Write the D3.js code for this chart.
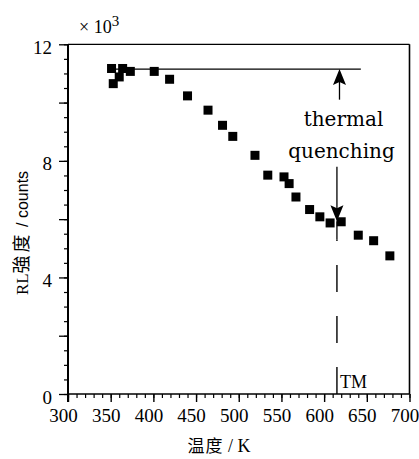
<!DOCTYPE html>
<html>
<head>
<meta charset="utf-8">
<script src="https://cdn.jsdelivr.net/npm/d3@7/dist/d3.min.js"></script>
<style>
  html, body { margin: 0; padding: 0; background: #fff; }
  svg { display: block; }
</style>
</head>
<body>
<svg id="chart" width="419" height="459"></svg>
<script>
// Radioluminescence intensity versus temperature
const temperatureK = [351, 353, 360, 364, 373, 401, 419, 440, 464, 481, 493, 519, 534, 553, 559, 567, 583, 595, 607, 620, 640, 658, 677];
const intensityK = [11.17, 10.65, 10.88, 11.17, 11.07, 11.07, 10.80, 10.23, 9.74, 9.22, 8.84, 8.19, 7.51, 7.45, 7.22, 6.76, 6.33, 6.08, 5.87, 5.91, 5.45, 5.26, 4.74];

const xTickValues = [300, 350, 400, 450, 500, 550, 600, 650, 700];
const yTickLabels = [0, 4, 8, 12];

// Plateau reference and quenching annotation (data units)
const plateauLevel = 11.15;
const plateauRange = [350, 643];
const quenchArrowT = 618;
const upArrowTail = 10.1;
const downArrowTail = 7.8;
const downArrowTip = 5.93;
const tmTemperature = 615;
const tmLineTop = 5.3;

const svg = d3.select("#chart");
const serif = "'Liberation Serif', 'Times New Roman', serif";
const cjk = "'Noto Sans CJK SC', 'Noto Sans CJK JP', sans-serif";

const x = d3.scaleLinear().domain([300, 700]).range([68, 409.5]);
const y = d3.scaleLinear().domain([0, 12]).range([394, 44.3]);

// Frame: top and right borders
svg.append("line").attr("x1", x(300)).attr("x2", x(700)).attr("y1", y(12)).attr("y2", y(12))
  .attr("stroke", "#000").attr("stroke-width", 1.3);
svg.append("line").attr("x1", x(700)).attr("x2", x(700)).attr("y1", y(12)).attr("y2", y(0))
  .attr("stroke", "#000").attr("stroke-width", 1.6);

// Bottom axis: minor ticks every 10 K, major every 50 K
const xAxisMinor = d3.axisBottom(x).tickValues(d3.range(300, 701, 10)).tickSize(4).tickFormat("");
svg.append("g").attr("transform", `translate(0,${y(0)})`).call(xAxisMinor)
  .call(g => g.select(".domain").remove())
  .selectAll("line").attr("stroke", "#000").attr("stroke-width", 1.2);
const xAxis = d3.axisBottom(x).tickValues(xTickValues).tickSize(8).tickPadding(10);
const gx = svg.append("g").attr("transform", `translate(0,${y(0)})`).call(xAxis);
gx.select(".domain").remove();
gx.selectAll("line").attr("stroke", "#000").attr("stroke-width", 1.4);
gx.selectAll("text").attr("font-family", serif).attr("font-size", 19).attr("fill", "#000")
  .attr("dx", -5).attr("dy", "0.55em");
svg.append("line").attr("x1", x(300)).attr("x2", x(700)).attr("y1", y(0)).attr("y2", y(0))
  .attr("stroke", "#000").attr("stroke-width", 1.6);

// Left axis: minor ticks every 0.5, major every 2, labels every 4
const yAxisMinor = d3.axisLeft(y).tickValues(d3.range(0, 12.01, 0.5)).tickSize(4).tickFormat("");
svg.append("g").attr("transform", `translate(${x(300)},0)`).call(yAxisMinor)
  .call(g => g.select(".domain").remove())
  .selectAll("line").attr("stroke", "#000").attr("stroke-width", 1.2);
const yAxisMajor = d3.axisLeft(y).tickValues(d3.range(0, 12.01, 2)).tickSize(9).tickFormat("");
svg.append("g").attr("transform", `translate(${x(300)},0)`).call(yAxisMajor)
  .call(g => g.select(".domain").remove())
  .selectAll("line").attr("stroke", "#000").attr("stroke-width", 1.3);
const yAxisLabels = d3.axisLeft(y).tickValues(yTickLabels).tickSize(0).tickPadding(16);
const gy = svg.append("g").attr("transform", `translate(${x(300)},0)`).call(yAxisLabels);
gy.select(".domain").remove();
gy.selectAll("text").attr("font-family", serif).attr("font-size", 19).attr("fill", "#000")
  .attr("dy", "0.48em");
svg.append("line").attr("x1", x(300)).attr("x2", x(300)).attr("y1", y(12)).attr("y2", y(0) + 8)
  .attr("stroke", "#000").attr("stroke-width", 2);

// Scale multiplier above the axis
const mult = svg.append("text").attr("x", 79).attr("y", 33)
  .attr("font-family", serif).attr("font-size", 18).attr("fill", "#000");
mult.append("tspan").text("× 10");
mult.append("tspan").attr("dy", -7).attr("font-size", 15).text("3");

// Plateau level line
svg.append("line")
  .attr("x1", x(plateauRange[0])).attr("x2", x(plateauRange[1]))
  .attr("y1", y(plateauLevel)).attr("y2", y(plateauLevel))
  .attr("stroke", "#000").attr("stroke-width", 1.3);

// Quenching arrows
function arrowHead(cx, tipY, dir) {
  const h = 16, w = 6.5;
  const baseY = tipY - dir * h;
  return `M${cx},${tipY} L${cx - w},${baseY} L${cx},${baseY + dir * 3} L${cx + w},${baseY} Z`;
}
const qx = x(quenchArrowT);
svg.append("line").attr("x1", qx).attr("x2", qx)
  .attr("y1", y(plateauLevel) + 10).attr("y2", y(upArrowTail))
  .attr("stroke", "#000").attr("stroke-width", 1.3);
svg.append("path").attr("d", arrowHead(qx, y(plateauLevel), -1)).attr("fill", "#000");

const tx = x(tmTemperature);
svg.append("line").attr("x1", tx).attr("x2", tx)
  .attr("y1", y(downArrowTail)).attr("y2", y(downArrowTip) - 8)
  .attr("stroke", "#000").attr("stroke-width", 1.3);
svg.append("path").attr("d", arrowHead(tx, y(downArrowTip), 1)).attr("fill", "#000");
svg.append("line").attr("x1", tx).attr("x2", tx)
  .attr("y1", y(downArrowTip)).attr("y2", y(tmLineTop))
  .attr("stroke", "#000").attr("stroke-width", 1.3);

// Dashed Tm marker down to the axis
svg.append("line").attr("x1", tx).attr("x2", tx)
  .attr("y1", y(0)).attr("y2", y(tmLineTop))
  .attr("stroke", "#000").attr("stroke-width", 1.4)
  .attr("stroke-dasharray", "27 24");

svg.append("text").attr("x", tx + 3).attr("y", y(0) - 6)
  .attr("font-family", serif).attr("font-size", 18).attr("fill", "#000").text("TM");

// Annotation text
const annFont = "'DejaVu Serif', serif";
svg.append("text").attr("x", qx + 4).attr("y", 126).attr("text-anchor", "middle")
  .attr("font-family", annFont).attr("font-size", 20).attr("fill", "#000").text("thermal");
svg.append("text").attr("x", qx + 2).attr("y", 158).attr("text-anchor", "middle")
  .attr("font-family", annFont).attr("font-size", 20).attr("fill", "#000").text("quenching");

// Data markers
const size = 9;
svg.append("g").selectAll("rect")
  .data(temperatureK.map((t, i) => ({ t, v: intensityK[i] })))
  .join("rect")
  .attr("x", d => x(d.t) - size / 2)
  .attr("y", d => y(d.v) - size / 2)
  .attr("width", size).attr("height", size)
  .attr("fill", "#000");

// Axis titles
const yt = svg.append("text")
  .attr("transform", `translate(28,233) rotate(-90)`)
  .attr("text-anchor", "middle").attr("fill", "#000").attr("font-size", 17);
yt.append("tspan").attr("font-family", serif).text("RL");
yt.append("tspan").attr("font-family", cjk).attr("font-size", 18).attr("letter-spacing", 3).text("強度");
yt.append("tspan").attr("font-family", "'Liberation Sans', Arial, sans-serif").attr("font-size", 16).text(" / counts");

const xt = svg.append("text").attr("x", 219).attr("y", 452)
  .attr("text-anchor", "middle").attr("fill", "#000").attr("font-size", 17);
xt.append("tspan").attr("font-family", cjk).attr("letter-spacing", 1).text("温度");
xt.append("tspan").attr("font-family", serif).attr("font-size", 18).text(" / K");
</script>
</body>
</html>
